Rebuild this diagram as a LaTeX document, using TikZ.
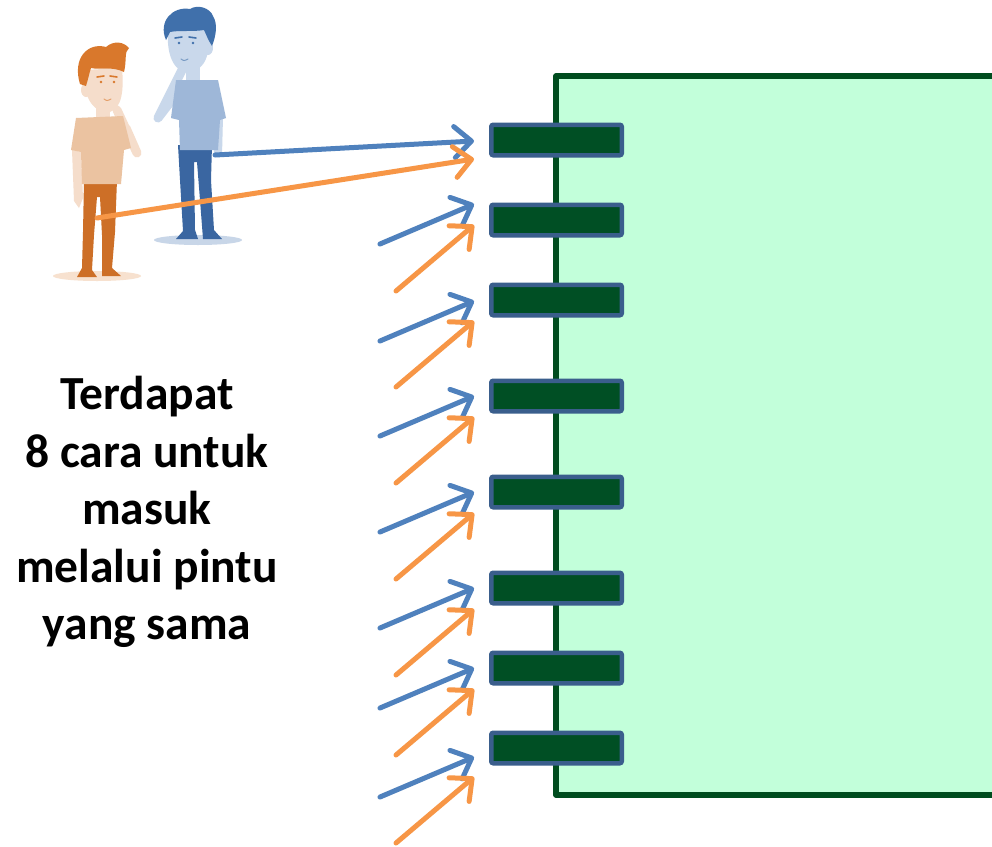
\documentclass[tikz,border=0pt]{standalone}
\usepackage{fontspec}
\setmainfont{Carlito}
\usetikzlibrary{arrows.meta,calc}

\definecolor{roomfill}{HTML}{C2FFDA}
\definecolor{roomline}{HTML}{004D1F}
\definecolor{doorfill}{HTML}{004F24}
\definecolor{doorline}{HTML}{3A5E8C}
\definecolor{arrblue}{HTML}{4F81BD}
\definecolor{arrorange}{HTML}{F79646}
% figure colours
\definecolor{ohair}{HTML}{D9782C}
\definecolor{oskin}{HTML}{F5DDCB}
\definecolor{oshirt}{HTML}{EBC3A1}
\definecolor{opants}{HTML}{CD6F27}
\definecolor{oshadow}{HTML}{F7E1CF}
\definecolor{bhair}{HTML}{4070AB}
\definecolor{bskin}{HTML}{C9D8EB}
\definecolor{bshirt}{HTML}{9EB7D8}
\definecolor{bpants}{HTML}{3A66A1}
\definecolor{bshadow}{HTML}{C8D6E8}

\tikzset{
  room/.style={draw=roomline, fill=roomfill, line width=5.5pt, line join=round,
    minimum width=500pt, minimum height=719pt, inner sep=0pt, outer sep=0pt, anchor=north west},
  door/.style={draw=doorline, fill=doorfill, line width=4.5pt, rounded corners=2pt,
    minimum width=130.5pt, minimum height=30.5pt, inner sep=0pt, outer sep=0pt},
  entry/.style={line width=5pt, line cap=round, line join=round,
    -{Straight Barb[length=17pt, width=31pt, round]}},
  bluearrow/.style={entry, draw=arrblue},
  orangearrow/.style={entry, draw=arrorange},
  limb/.style={line width=9pt, line cap=round, line join=round},
  caption/.style={align=center, inner sep=0pt,
    font=\bfseries\fontsize{47.5pt}{57.5pt}\selectfont},
}

\begin{document}
\begin{tikzpicture}[x=1pt, y=-1pt]
\clip (0,0) rectangle (992,846);
\fill[white] (0,0) rectangle (992,846);

% the room
\node[room] (room) at (556,76) {};

% doors along the left wall
\foreach \k/\c in {1/140,2/220,3/300,4/396,5/492,6/588,7/668,8/748}
  \node[door] (d\k) at (556.5,\c) {};

% ---- orange figure ----
\fill[oshadow] (97,276) ellipse [x radius=44pt, y radius=5pt];
\fill[opants] (84,180) -- (117,180) -- (115,232) -- (112,268) -- (121,276) -- (102,276)
  -- (102,235) -- (100,197) -- (97,197) -- (94,235) -- (92,270) -- (97,277) -- (77,277)
  -- (82,268) -- (83,232) -- cycle;
\draw[oskin, limb] (126,128) -- (137,153) -- (117,110);
\fill[oskin] (72,150) -- (81,152) -- (83,198) -- (79,208) -- (74,201) -- cycle;
\fill[oskin] (96,104) rectangle (110,122);
\fill[oshirt] (76,118) -- (123,116) -- (131,148) -- (124,150) -- (121,184) -- (82,184)
  -- (81,152) -- (71,150) -- cycle;
\fill[oskin] (84,70) .. controls (82,100) and (96,114) .. (110,112)
  .. controls (122,108) and (124,90) .. (122,68) -- cycle;
\fill[oskin] (86,90) ellipse [x radius=5pt, y radius=7pt];
\fill[ohair] (80,84) .. controls (72,58) and (88,42) .. (106,47)
  .. controls (114,40) and (124,42) .. (129,48)
  .. controls (124,52) and (127,60) .. (124,72)
  .. controls (112,66) and (100,70) .. (91,68)
  .. controls (89,74) and (88,80) .. (86,86) -- cycle;
\draw[ohair, line width=1.6pt, line cap=round] (97,77) -- (104,76) (110,76) -- (117,77);
\fill[ohair] (101,82) circle (1.4pt) (114,82) circle (1.4pt);
\draw[ohair!70, line width=1pt, line cap=round] (104,99) .. controls (107,101) .. (111,99);

% ---- blue figure ----
\fill[bshadow] (198,240) ellipse [x radius=44pt, y radius=5pt];
\fill[bpants] (178,145) -- (212,145) -- (211,180) -- (214,230) -- (222,239) -- (203,239)
  -- (200,200) -- (197,162) -- (194,162) -- (195,230) -- (198,239) -- (176,239)
  -- (183,231) -- (180,180) -- cycle;
\draw[bskin, limb] (178,92) -- (158,118) -- (183,68);
\fill[bskin] (213,118) -- (223,117) -- (222,156) -- (214,156) -- cycle;
\fill[bskin] (186,62) rectangle (200,84);
\fill[bshirt] (176,80) -- (218,80) -- (226,118) -- (220,120) -- (218,150) -- (180,150)
  -- (179,120) -- (171,118) -- cycle;
\fill[bskin] (168,30) .. controls (166,58) and (176,74) .. (190,72)
  .. controls (205,70) and (211,54) .. (209,28) -- cycle;
\fill[bskin] (208,48) ellipse [x radius=5pt, y radius=7pt];
\fill[bhair] (166,40) .. controls (158,22) and (172,6) .. (190,9)
  .. controls (198,4) and (210,8) .. (213,16)
  .. controls (218,24) and (216,36) .. (212,46)
  .. controls (208,40) and (206,34) .. (204,30)
  .. controls (192,32) and (180,30) .. (170,32) -- cycle;
\draw[bhair, line width=1.6pt, line cap=round] (175,38) -- (182,37) (189,37) -- (196,38);
\fill[bhair] (179,43) circle (1.4pt) (193,43) circle (1.4pt);
\draw[bhair!70, line width=1pt, line cap=round] (181,59) .. controls (184,61) .. (188,59);

% ---- entry arrows ----
\coordinate (bsrc) at (215,155);
\coordinate (osrc) at (97,218);
\coordinate (bt1) at (474,141);
\coordinate (ot1) at (474,159);
\draw[bluearrow] (bsrc) -- (bt1);
\draw[orangearrow] (osrc) -- (ot1);
\foreach \k/\b/\o in {2/204/225,3/301/321,4/396/417,5/492/513,6/588/609,7/668/689,8/757/777}{
  \coordinate (bs\k) at (380,{\b+40});
  \coordinate (bt\k) at (474,\b);
  \coordinate (os\k) at (396,{\o+66});
  \coordinate (ot\k) at (474,\o);
  \draw[bluearrow] (bs\k) -- (bt\k);
  \draw[orangearrow] (os\k) -- (ot\k);
}

% caption
\node[caption] (note) at (147,512)
  {Terdapat\\8 cara untuk\\masuk\\melalui pintu\\yang sama};
\end{tikzpicture}
\end{document}
